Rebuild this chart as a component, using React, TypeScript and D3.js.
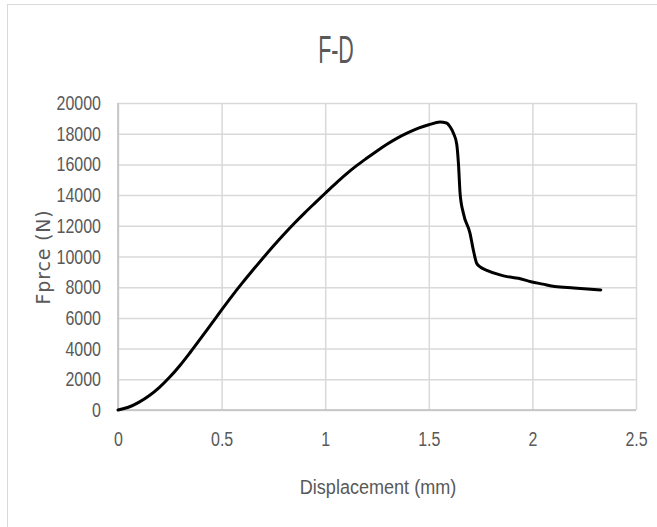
import React, { useEffect, useRef } from "react";
import * as d3 from "d3";

// displacement (mm)
const displacement = [
  0, 0.05, 0.1, 0.15, 0.2, 0.25, 0.3, 0.35, 0.4, 0.45, 0.5, 0.55, 0.6, 0.65,
  0.7, 0.75, 0.8, 0.85, 0.9, 0.95, 1.0, 1.05, 1.1, 1.15, 1.2, 1.25, 1.3, 1.35,
  1.4, 1.45, 1.5, 1.554, 1.585, 1.605, 1.62, 1.635, 1.643, 1.651, 1.667, 1.699,
  1.715, 1.731, 1.75, 1.78, 1.844, 1.878, 1.932, 1.993, 2.05, 2.108, 2.2, 2.33,
];
// force (N)
const force = [
  0, 180, 500, 930, 1480, 2150, 2920, 3780, 4680, 5600, 6520, 7420, 8280, 9100,
  9900, 10680, 11430, 12150, 12830, 13480, 14120, 14750, 15350, 15900, 16400,
  16880, 17330, 17730, 18070, 18360, 18580, 18760, 18700, 18400, 18000, 17300,
  16070, 14120, 12810, 11510, 10420, 9560, 9300, 9100, 8800, 8690, 8580, 8360,
  8200, 8040, 7950, 7820,
];
const xTicks = [0, 0.5, 1, 1.5, 2, 2.5];
const yTicks = [0, 2000, 4000, 6000, 8000, 10000, 12000, 14000, 16000, 18000, 20000];

const title = "F-D";
const xTitle = "Displacement (mm)";
const yTitle = "Fprce (N)";

const App = () => {
  const svgRef = useRef<SVGSVGElement>(null);

  useEffect(() => {
    const width = 657;
    const height = 527;
    const margins = { left: 118, right: 21, top: 103, bottom: 117 };
    const sans = "'Liberation Sans', Arial, sans-serif";
    const grey = "#595959";
    const squeeze = 0.78; // the original font is a condensed one

    const svg = d3.select(svgRef.current);
    svg.selectAll("*").remove();

    svg.append("rect")
      .attr("width", width).attr("height", height).attr("fill", "#fff");

    // chart area border (only top and left show)
    svg.append("rect")
      .attr("x", 7.5).attr("y", 4.5)
      .attr("width", width + 20).attr("height", height + 20)
      .attr("fill", "none").attr("stroke", "#d9d9d9").attr("stroke-width", 1);

    const innerW = width - margins.left - margins.right;
    const innerH = height - margins.top - margins.bottom;

    const xScale = d3.scaleLinear().domain([0, 2.5]).range([0, innerW]);
    const yScale = d3.scaleLinear().domain([0, 20000]).range([innerH, 0]);

    const chart = svg.append("g")
      .attr("transform", `translate(${margins.left}, ${margins.top})`);

    // grid lines
    chart.append("g")
      .call(d3.axisLeft(yScale).tickValues(yTicks).tickSize(-innerW).tickFormat(() => ""))
      .call((g) => g.select(".domain").remove())
      .selectAll("line")
      .attr("stroke", "#d9d9d9").attr("stroke-width", 1.5);

    chart.append("g")
      .call(d3.axisBottom(xScale).tickValues(xTicks).tickSize(innerH).tickFormat(() => ""))
      .call((g) => g.select(".domain").remove())
      .selectAll("line")
      .attr("stroke", "#d9d9d9").attr("stroke-width", 1.5);

    // axis lines
    chart.append("line")
      .attr("x1", 0).attr("x2", 0).attr("y1", 0).attr("y2", innerH)
      .attr("stroke", "#bfbfbf").attr("stroke-width", 1.5);
    chart.append("line")
      .attr("x1", 0).attr("x2", innerW).attr("y1", innerH).attr("y2", innerH)
      .attr("stroke", "#bfbfbf").attr("stroke-width", 1.5);

    // tick labels
    const yAxis = chart.append("g")
      .call(d3.axisLeft(yScale).tickValues(yTicks).tickSize(0).tickFormat((d) => String(d)));
    yAxis.select(".domain").remove();
    yAxis.selectAll("text")
      .attr("x", -17 / squeeze)
      .attr("transform", `scale(${squeeze}, 1)`)
      .attr("fill", grey).style("font-family", sans).style("font-size", "20.5px");

    const xAxis = chart.append("g")
      .attr("transform", `translate(0, ${innerH})`)
      .call(d3.axisBottom(xScale).tickValues(xTicks).tickSize(0).tickPadding(21).tickFormat((d) => String(d)));
    xAxis.select(".domain").remove();
    xAxis.selectAll("text")
      .attr("transform", `scale(${squeeze}, 1)`)
      .attr("fill", grey).style("font-family", sans).style("font-size", "20.5px");

    // the curve
    const points = displacement.map((d, i) => [d, force[i]] as [number, number]);
    const line = d3.line<[number, number]>()
      .x((d) => xScale(d[0]))
      .y((d) => yScale(d[1]))
      .curve(d3.curveMonotoneX);

    chart.append("path")
      .datum(points)
      .attr("d", line)
      .attr("fill", "none")
      .attr("stroke", "#000")
      .attr("stroke-width", 3)
      .attr("stroke-linecap", "round")
      .attr("stroke-linejoin", "round");

    // titles
    svg.append("text")
      .attr("transform", "translate(336, 63) scale(0.55, 1)")
      .attr("text-anchor", "middle")
      .attr("fill", grey)
      .style("font-family", sans)
      .style("font-size", "39px")
      .text(title);

    svg.append("text")
      .attr("transform", "translate(378, 494) scale(0.86, 1)")
      .attr("text-anchor", "middle")
      .attr("fill", grey)
      .style("font-family", sans)
      .style("font-size", "21px")
      .text(xTitle);

    svg.append("text")
      .attr("transform", "translate(50, 257) rotate(-90)")
      .attr("text-anchor", "middle")
      .attr("fill", grey)
      .style("font-family", "'DejaVu Sans', sans-serif")
      .style("font-size", "19px")
      .style("letter-spacing", "0.8px")
      .text(yTitle);
  }, []);

  return (
    <div style={{ position: "absolute", left: 0, top: 0 }}>
      <svg ref={svgRef} width={657} height={527} style={{ display: "block" }}></svg>
    </div>
  );
};

export default App;
